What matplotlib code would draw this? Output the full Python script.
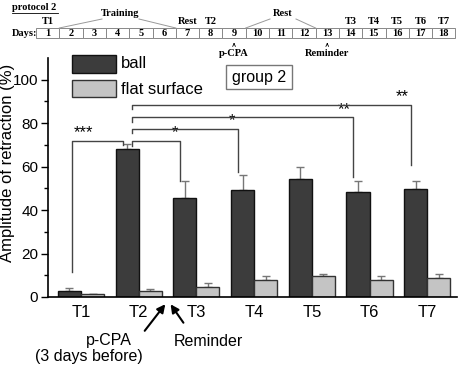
import matplotlib
matplotlib.use("Agg")
import matplotlib.pyplot as plt
import numpy as np

plt.rcParams['font.family'] = ['Liberation Sans', 'DejaVu Sans']

sessions = ["T1", "T2", "T3", "T4", "T5", "T6", "T7"]
ball = [2.8, 67.9, 45.6, 49.2, 54.2, 48.2, 49.6]
ball_err = [1.4, 2.3, 7.9, 7.0, 5.6, 5.3, 4.0]
flat = [1.2, 2.8, 4.6, 7.8, 9.5, 7.7, 8.6]
flat_err = [0.3, 1.0, 1.9, 1.9, 1.3, 2.0, 2.0]

# significance brackets: (left group, right group, height, right leg bottom, stars)
brackets = [(0, 1, 71.7, 70.0, "***"),
            (1, 2, 71.7, 53.5, "*"),
            (1, 3, 77.3, 57.6, "*"),
            (1, 5, 82.7, 55.3, "**"),
            (1, 6, 88.3, 60.7, "**")]

days = list(range(1, 19))
day_marks = {1: "T1", 7: "Rest", 8: "T2", 14: "T3", 15: "T4", 16: "T5", 17: "T6", 18: "T7"}

dark = "#3c3c3c"
light = "#c4c4c4"

fig = plt.figure(figsize=(4.59, 3.67), dpi=100)
ax = fig.add_axes([48/459, 70/367, 409/459, 239/367])

x = np.arange(len(sessions))
w = 0.4
ax.bar(x - w/2, ball, w, color=dark, edgecolor="#111111", linewidth=1, zorder=2)
ax.bar(x + w/2, flat, w, color=light, edgecolor="#333333", linewidth=1, zorder=2)
ax.errorbar(x - w/2, ball, yerr=[np.zeros(7), ball_err], fmt='none', ecolor="#777777",
            elinewidth=1, capsize=3, capthick=1, zorder=1)
ax.errorbar(x + w/2, flat, yerr=[np.zeros(7), flat_err], fmt='none', ecolor="#777777",
            elinewidth=1, capsize=3, capthick=1, zorder=1)

ax.set_xlim(-0.572, 6.516)
ax.set_ylim(0, 110)
ax.set_xticks(x)
ax.set_xticklabels(sessions, fontsize=12)
ax.tick_params(axis='x', length=0, pad=6)
ax.set_yticks(np.arange(0, 101, 20))
ax.set_yticks(np.arange(10, 101, 20), minor=True)
ax.tick_params(axis='y', which='major', labelsize=11, length=5, width=1, direction='out', pad=2)
ax.tick_params(axis='y', which='minor', length=3, width=1, direction='out')
for s in ['top', 'right']:
    ax.spines[s].set_visible(False)
ax.spines['left'].set_linewidth(1.2)
ax.spines['bottom'].set_linewidth(1.2)
ax.set_ylabel("Amplitude of retraction (%)", fontsize=12)
ax.yaxis.set_label_coords(-33/409, 0.56)

lc = "#444444"
for a, b, h, bot, stars in brackets:
    if a == 0:
        xl = a - w/2 + 0.05
        lbot = 11.5
    else:
        xl = a - w/2 + 0.09
        lbot = h - 2
    xr = b - w/2 - 0.08
    ax.plot([xl, xl, xr, xr], [lbot, h, h, bot], color=lc, lw=1, zorder=3)
    if a == 0:
        ax.text(xl + 0.02, h + 0.3, stars, ha='left', va='bottom', fontsize=12)
    else:
        ax.text(xr - 0.04, h + 0.3, stars, ha='right', va='bottom', fontsize=12)

# overlay in pixel coordinates for legend, labels and protocol diagram
ov = fig.add_axes([0, 0, 1, 1], zorder=5)
ov.set_xlim(0, 459)
ov.set_ylim(367, 0)
ov.axis('off')

ov.add_patch(plt.Rectangle((72, 55), 44, 18, facecolor=dark, edgecolor="#111111", lw=1))
ov.add_patch(plt.Rectangle((72, 80), 44, 17, facecolor=light, edgecolor="#333333", lw=1))
ov.text(121, 64, "ball", fontsize=12, va='center', ha='left')
ov.text(121, 89, "flat surface", fontsize=12, va='center', ha='left')

ov.add_patch(plt.Rectangle((226, 65), 66, 24, facecolor="white", edgecolor="#777777", lw=1))
ov.text(259, 77.5, "group 2", fontsize=11.5, va='center', ha='center')

ov.text(109, 340, "p-CPA", fontsize=11.5, ha='center', va='center')
ov.text(89, 357, "(3 days before)", fontsize=11.5, ha='center', va='center')
ov.text(208, 342, "Reminder", fontsize=11.5, ha='center', va='center')
ov.annotate("", xy=(167, 302), xytext=(143, 333),
            arrowprops=dict(arrowstyle="-|>", color="black", lw=1.5, mutation_scale=12))
ov.annotate("", xy=(169, 302), xytext=(185, 325),
            arrowprops=dict(arrowstyle="-|>", color="black", lw=1.5, mutation_scale=12))

# protocol diagram
serif = dict(family='Liberation Serif', fontweight='bold', fontsize=7.5)
ov.text(12, 8, "protocol 2", ha='left', va='center', **serif)
ov.plot([12, 58], [13, 13], color="black", lw=0.6)
ov.text(12, 33, "Days:", ha='left', va='center', **serif)
cx0, cw, cy0, ch = 36, 23.3, 28, 10
for i, d in enumerate(days):
    ov.add_patch(plt.Rectangle((cx0 + i*cw, cy0), cw, ch, facecolor="white",
                               edgecolor="#888888", lw=0.7))
    ov.text(cx0 + (i + 0.5)*cw, cy0 + ch/2, str(d), ha='center', va='center', **serif)
    if d in day_marks:
        ov.text(cx0 + (i + 0.5)*cw, 22, day_marks[d], ha='center', va='center', **serif)

ov.text(120, 14, "Training", ha='center', va='center', **serif)
ov.plot([cx0 + 1*cw, 102], [cy0, 19], color="#999999", lw=0.7)
ov.plot([139, cx0 + 6*cw], [19, cy0], color="#999999", lw=0.7)
ov.text(283, 14, "Rest", ha='center', va='center', **serif)
ov.plot([cx0 + 9*cw, 270], [cy0, 19], color="#999999", lw=0.7)
ov.plot([296, cx0 + 12*cw], [19, cy0], color="#999999", lw=0.7)

for day, label in [(9, "p-CPA"), (13, "Reminder")]:
    xc = cx0 + (day - 0.5)*cw
    ov.annotate("", xy=(xc, 40), xytext=(xc, 47),
                arrowprops=dict(arrowstyle="->", color="black", lw=0.6, mutation_scale=5))
    ov.text(xc, 53, label, ha='center', va='center', **serif)

fig.savefig("out.png", dpi=100)
